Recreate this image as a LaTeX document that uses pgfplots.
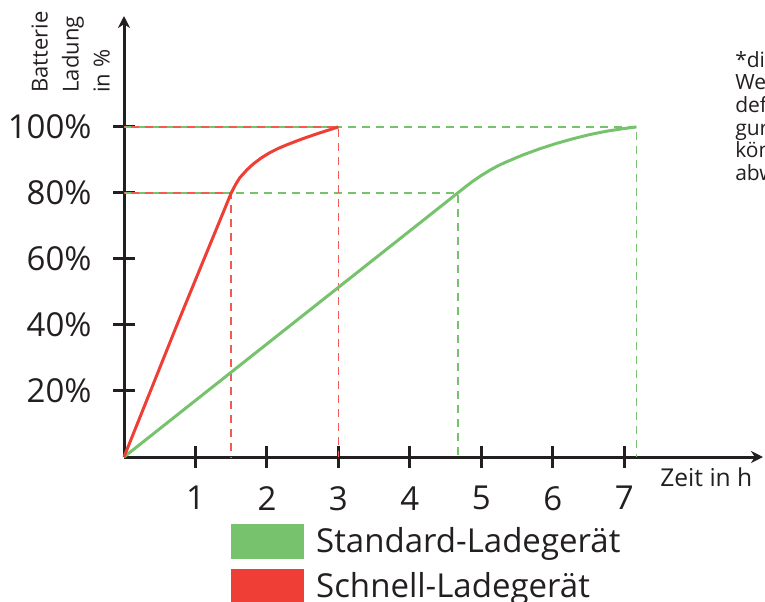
\documentclass[border=0pt]{standalone}
\usepackage{pgfplots}
\pgfplotsset{compat=1.18}
\usetikzlibrary{arrows.meta}
\usepackage{fontspec}
\setmainfont{Open Sans}
\definecolor{cgreen}{HTML}{77C36D}
\definecolor{cred}{HTML}{EE3E35}
\definecolor{caxis}{HTML}{231F20}

\begin{document}
\begin{tikzpicture}
\begin{axis}[
    at={(62pt,72pt)}, anchor=south west,
    scale only axis, width=319.5pt, height=220.5pt,
    xmin=0, xmax=8.94, ymin=0, ymax=133.6,
    axis lines=left,
    axis line style={line width=1.5pt, caxis, -{Stealth[length=6pt,width=6pt]}},
    tick style={line width=1.5pt, caxis},
    major tick length=11pt, tick align=center,
    xtick={1,...,7}, ytick={20,40,60,80,100},
    yticklabels={20\%,40\%,60\%,80\%,100\%},
    /pgf/number format/assume math mode=true,
    ticklabel style={font=\fontsize{16.5}{18}\selectfont, text=caxis, inner sep=0pt},
    xticklabel style={anchor=north, yshift=-9pt},
    yticklabel style={anchor=east, xshift=-10.5pt},
    xlabel={Zeit in h},
    xlabel style={at={(axis description cs:0.8388,0)}, anchor=north west,
        inner sep=0pt, yshift=-5pt, font=\fontsize{12.3}{14}\selectfont, text=caxis},
    ylabel={Batterie\\Ladung\\in \%},
    ylabel style={at={(axis description cs:-0.1455,0.8254)}, anchor=north west,
        align=left, inner sep=0pt, font=\fontsize{11}{15.5}\selectfont, text=caxis},
    legend style={at={(axis description cs:0.1674,-0.152)}, anchor=north west,
        draw=none, fill=none, inner sep=0pt, row sep=5pt,
        font=\fontsize{16.5}{18}\selectfont, text=caxis,
        nodes={inner sep=0pt},
        /tikz/every odd column/.style={column sep=6pt}},
    legend cell align=left,
    legend image code/.code={\fill[#1] (0pt,-8.5pt) rectangle (36pt,8.5pt);},
    clip=false,
]
% guide lines
\addplot[forget plot, cgreen, line width=0.75pt, dash pattern=on 4pt off 3pt]
    coordinates {(0,100) (7.17,100) (7.17,0)};
\addplot[forget plot, cgreen, line width=0.75pt, dash pattern=on 4pt off 3pt]
    coordinates {(0,80) (4.67,80) (4.67,0)};
\addplot[forget plot, cred!85, line width=0.75pt, dash pattern=on 4pt off 3pt, dash phase=3.5pt]
    coordinates {(0,100) (3,100) (3,0)};
\addplot[forget plot, cred!85, line width=0.75pt, dash pattern=on 4pt off 3pt, dash phase=3.5pt]
    coordinates {(0,80) (1.5,80) (1.5,0)};
% Standard-Ladegeraet
\addplot[forget plot, cgreen, line width=1.5pt, line join=round] coordinates {
    (0,0) (4.67,80) (4.78,81.9) (4.89,83.7) (5.0,85.3) (5.12,86.9) (5.23,88.2)
    (5.35,89.4) (5.58,91.5) (5.82,93.4) (6.05,95.0) (6.28,96.4) (6.52,97.7)
    (6.75,98.7) (6.96,99.4) (7.17,100)};
% Schnell-Ladegeraet
\addplot[forget plot, cred, line width=1.5pt, line join=round] coordinates {
    (0,0) (0.75,40.5) (1.5,80) (1.56,82.5) (1.62,84.6) (1.72,87.0) (1.81,88.8)
    (1.92,90.6) (2.04,92.2) (2.16,93.5) (2.28,94.6) (2.4,95.6) (2.51,96.5)
    (2.63,97.4) (2.74,98.2) (2.87,99.1) (3,100)};
\addlegendimage{cgreen}
\addlegendentry{Standard-Ladegerät}
\addlegendimage{cred}
\addlegendentry{Schnell-Ladegerät}
\node[anchor=north west, align=left, inner sep=0pt,
    font=\fontsize{10.5}{11.3}\selectfont, text=caxis]
    at (axis description cs:0.956,0.9206)
    {*die angegebenen\\Werte beziehen sich auf\\definierte Konfi-\\gurationen und\\können\\abweichen};
\end{axis}
\pgfresetboundingbox
\path[use as bounding box] (0,0) rectangle (382.5pt,300.5pt);
\end{tikzpicture}
\end{document}
